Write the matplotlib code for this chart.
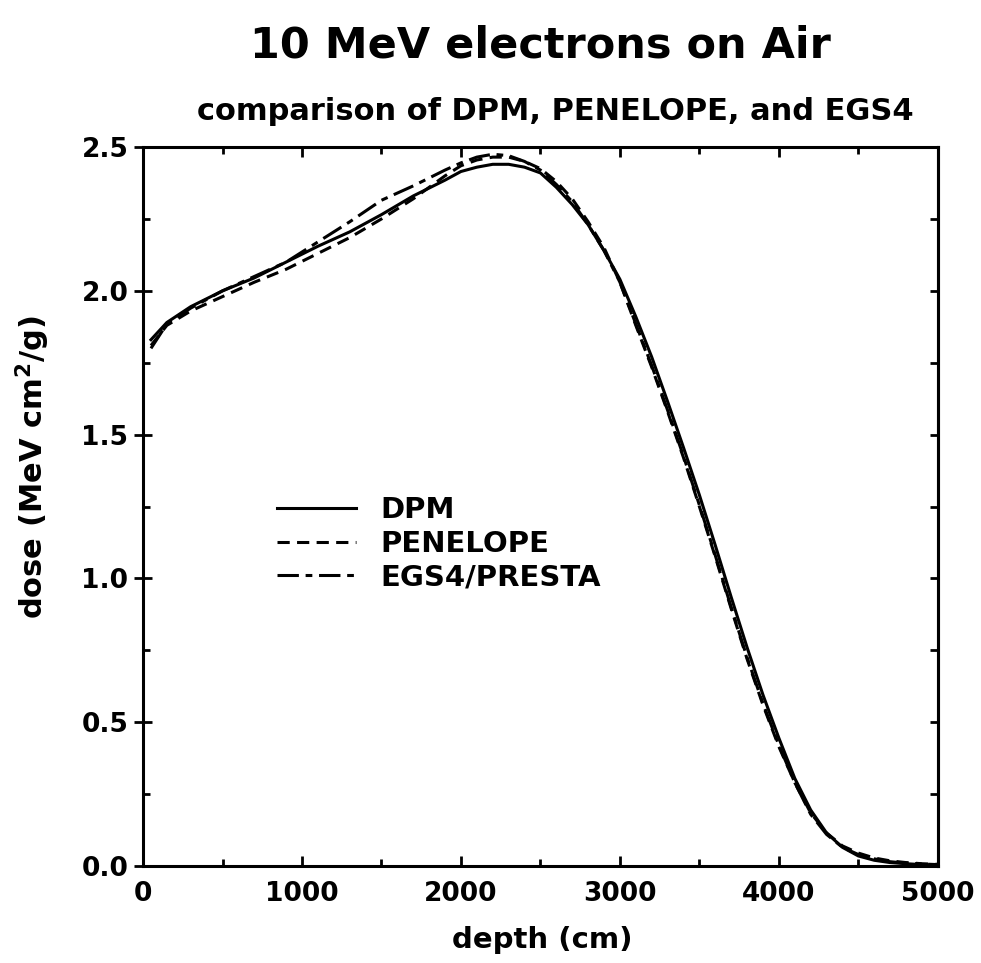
import matplotlib
matplotlib.use("Agg")
import matplotlib.pyplot as plt
from matplotlib.ticker import MultipleLocator, FormatStrFormatter

# depth grid (cm) and dose curves (MeV cm^2/g)
depth = [50, 150, 300, 500, 700, 900, 1100, 1300, 1500, 1700, 1900, 2000,
         2100, 2200, 2300, 2400, 2500, 2600, 2700, 2800, 2900, 3000, 3100,
         3200, 3300, 3400, 3500, 3600, 3700, 3800, 3900, 4000, 4100, 4200,
         4300, 4400, 4500, 4600, 4700, 4800, 4900, 5000]

dpm = [1.83, 1.89, 1.945, 2.00, 2.045, 2.10, 2.155, 2.205, 2.265, 2.33, 2.385, 2.415,
       2.43, 2.44, 2.44, 2.43, 2.41, 2.36, 2.30, 2.23, 2.14, 2.04, 1.91,
       1.77, 1.615, 1.455, 1.29, 1.115, 0.935, 0.76, 0.595, 0.445, 0.305, 0.195,
       0.115, 0.065, 0.035, 0.02, 0.012, 0.008, 0.005, 0.004]

penelope = [1.81, 1.88, 1.93, 1.98, 2.03, 2.075, 2.13, 2.185, 2.25, 2.32, 2.40, 2.435,
            2.455, 2.465, 2.465, 2.45, 2.425, 2.38, 2.32, 2.24, 2.15, 2.03, 1.88,
            1.735, 1.58, 1.42, 1.25, 1.075, 0.895, 0.72, 0.56, 0.415, 0.29, 0.185,
            0.115, 0.07, 0.045, 0.028, 0.018, 0.012, 0.008, 0.006]

egs4 = [1.80, 1.885, 1.94, 2.00, 2.05, 2.10, 2.17, 2.24, 2.315, 2.365, 2.42, 2.445,
        2.465, 2.475, 2.47, 2.45, 2.42, 2.37, 2.31, 2.23, 2.14, 2.03, 1.885,
        1.74, 1.585, 1.425, 1.255, 1.08, 0.90, 0.725, 0.565, 0.42, 0.29, 0.18,
        0.11, 0.065, 0.04, 0.025, 0.015, 0.01, 0.007, 0.005]

plt.rcParams['font.family'] = ['DejaVu Sans']
plt.rcParams['font.weight'] = 'bold'
plt.rcParams['mathtext.default'] = 'bf'

fig = plt.figure(figsize=(9.81, 9.63), dpi=100)
ax = fig.add_axes([0.1458, 0.1007, 0.8102, 0.7466])

lw = 2.2
ax.plot(depth, dpm, color='black', lw=lw, label='DPM')
ax.plot(depth, penelope, color='black', lw=lw, dashes=(4, 2.4), label='PENELOPE')
ax.plot(depth, egs4, color='black', lw=lw, dashes=(7, 2.2, 2.2, 2.2), label='EGS4/PRESTA')

ax.set_xlim(0, 5000)
ax.set_ylim(0, 2.5)
ax.xaxis.set_major_locator(MultipleLocator(1000))
ax.xaxis.set_minor_locator(MultipleLocator(500))
ax.yaxis.set_major_locator(MultipleLocator(0.5))
ax.yaxis.set_minor_locator(MultipleLocator(0.25))
ax.yaxis.set_major_formatter(FormatStrFormatter('%.1f'))

for sp in ax.spines.values():
    sp.set_linewidth(2.2)

ax.tick_params(axis='x', which='both', direction='in', top=True, bottom=True,
               width=2.0, labelsize=19, pad=11)
ax.tick_params(axis='x', which='major', length=7)
ax.tick_params(axis='x', which='minor', length=5)
ax.tick_params(axis='y', which='major', direction='inout', length=13, width=2.0,
               labelsize=19, right=False, pad=4)
ax.tick_params(axis='y', which='minor', direction='in', length=5, width=2.0, right=False)

# right side ticks point inward only
sec = ax.secondary_yaxis('right')
sec.yaxis.set_major_locator(MultipleLocator(0.5))
sec.yaxis.set_minor_locator(MultipleLocator(0.25))
sec.tick_params(which='both', direction='in', length=6, width=2.0, labelright=False)
sec.spines['right'].set_linewidth(2.2)

ax.set_xlabel('depth (cm)', fontsize=21, fontweight='bold')
ax.xaxis.set_label_coords(0.502, -0.083)
ax.set_ylabel('dose (MeV cm$^{2}$/g)', fontsize=22, fontweight='bold')
ax.yaxis.set_label_coords(-0.115, 0.555)

fig.text(0.551, 0.953, '10 MeV electrons on Air', ha='center', va='center',
         fontsize=31, fontweight='bold')
fig.text(0.566, 0.884, 'comparison of DPM, PENELOPE, and EGS4', ha='center', va='center',
         fontsize=22, fontweight='bold')

ax.legend(loc='upper left', bbox_to_anchor=(0.1686, 0.5146), frameon=False,
          borderpad=0, borderaxespad=0, fontsize=21, handlelength=2.7,
          handletextpad=0.85, labelspacing=0.2)

fig.savefig('out.png', dpi=100)
